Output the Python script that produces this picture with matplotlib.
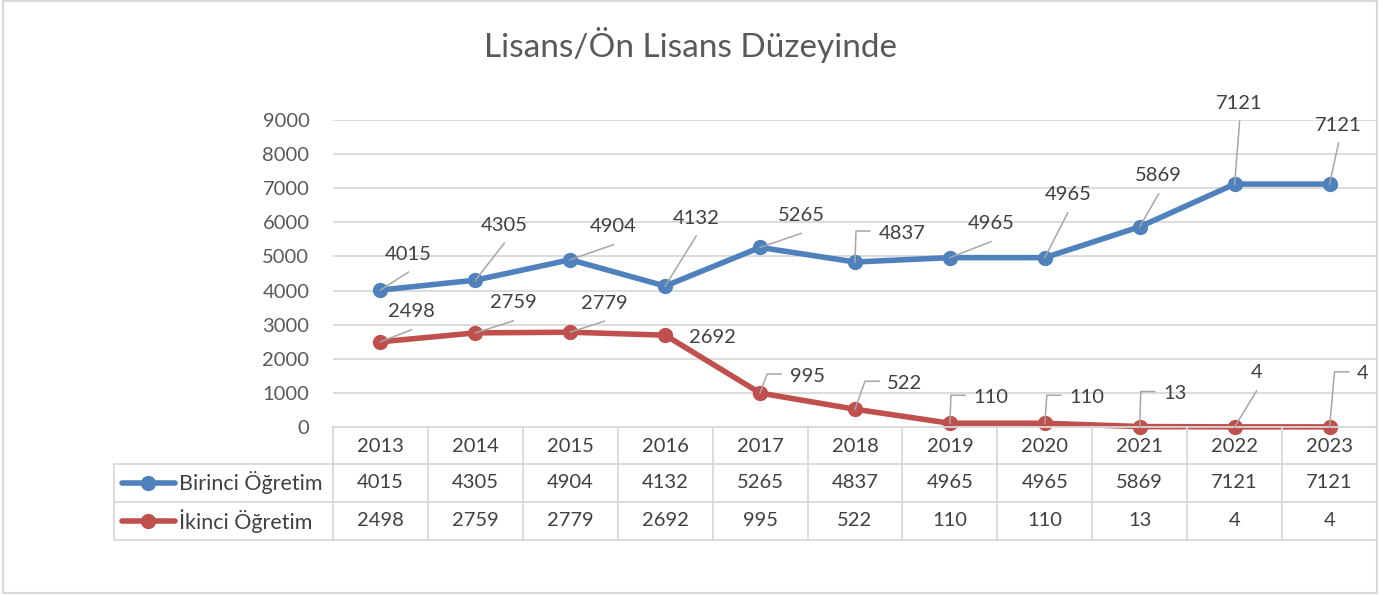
import matplotlib.pyplot as plt
from matplotlib.transforms import blended_transform_factory

# ============================================================
# DATA
# ============================================================
YEARS = [2013, 2014, 2015, 2016, 2017, 2018, 2019, 2020, 2021, 2022, 2023]
BIRINCI = [4015, 4305, 4904, 4132, 5265, 4837, 4965, 4965, 5869, 7121, 7121]
IKINCI = [2498, 2759, 2779, 2692, 995, 522, 110, 110, 13, 4, 4]
SERIES_NAMES = ["Birinci Öğretim", "İkinci Öğretim"]
TITLE = "Lisans/Ön Lisans Düzeyinde"
Y_TICKS = [0, 1000, 2000, 3000, 4000, 5000, 6000, 7000, 8000, 9000]

# ============================================================
# STYLE
# ============================================================
W, H = 1395, 595
BLUE = "#4F81BD"
RED = "#C0504D"
GRID = "#D9D9D9"
LEADER = "#A6A6A6"
TXT = "#404040"
TICK_TXT = "#595959"
FONT = "Lato"
FS = 14.5

# label placement (pixel offset from point: dx, dy downward) and leader style
# 's' = straight leader, 'b' = bracket leader, None = no leader
BLUE_LABELS = [(28, -36, 's'), (29, -55, 's'), (43, -33, 's'), (31, -68, 's'),
               (41, -32, 's'), (47, -29, 'b'), (41, -34, 's'), (23, -63, 's'),
               (19, -51, 's'), (5, -81, 's'), (9, -59, 's')]
RED_LABELS = [(31, -30, 's'), (38, -30, 's'), (34, -29, 's'), (47, 2, None),
              (47, -17, 'b'), (50, -26, 'b'), (41, -26, 'b'), (42, -26, 'b'),
              (35, -33, 'b'), (22, -54, 's'), (33, -53, 'b')]

plt.rcParams['font.family'] = [FONT, 'DejaVu Sans']

fig = plt.figure(figsize=(W / 100, H / 100), dpi=100)

# main plot area (pixel box: x 333..1377, y 120..427)
ax = fig.add_axes([333 / W, (H - 427) / H, (1377 - 333) / W, (427 - 120) / H])
ax.set_xlim(-0.5, len(YEARS) - 0.5)
ax.set_ylim(0, 9000)
ax.set_yticks(Y_TICKS)
ax.set_yticklabels([str(t) for t in Y_TICKS], fontsize=FS, color=TICK_TXT)
ax.set_xticks([])
ax.tick_params(axis='y', length=0, pad=17)
for s in ax.spines.values():
    s.set_visible(False)
ax.grid(axis='y', color=GRID, linewidth=1.3)
ax.set_axisbelow(True)

x = list(range(len(YEARS)))
ax.plot(x, BIRINCI, color=BLUE, linewidth=4, marker='o', markersize=10,
        solid_capstyle='round', zorder=3, clip_on=False)
ax.plot(x, IKINCI, color=RED, linewidth=4, marker='o', markersize=10,
        solid_capstyle='round', zorder=3, clip_on=False)

# overlay in pixel coordinates (y downwards)
ov = fig.add_axes([0, 0, 1, 1], facecolor='none')
ov.set_xlim(0, W)
ov.set_ylim(H, 0)
ov.axis('off')


def to_px(i, v):
    d = ax.transData.transform((i, v))
    return ov.transData.inverted().transform(d)


def add_labels(values, specs):
    for i, (v, (dx, dy, kind)) in enumerate(zip(values, specs)):
        px, py = to_px(i, v)
        cx, cy = px + dx, py + dy
        label = str(v)
        ov.text(cx, cy, label, fontsize=FS, color=TXT, ha='center', va='center', zorder=6)
        if kind == 's':
            ov.plot([px, cx], [py, cy + 18], color=LEADER, linewidth=1.1, zorder=5)
        elif kind == 'b':
            end = cx - (6 * len(label) + 8)
            corner = end - 14
            ov.plot([px, max(px, corner), end], [py, cy - 2, cy - 2],
                    color=LEADER, linewidth=1.1, zorder=5)


add_labels(BIRINCI, BLUE_LABELS)
add_labels(IKINCI, RED_LABELS)

# title
ov.text(690, 45, TITLE, fontsize=24, color=TICK_TXT, ha='center', va='center')

# data table
bt = blended_transform_factory(ax.transData, ov.transData)
ROW_Y = [427, 464, 502, 540]
n = len(YEARS)
for j in range(n + 1):
    ov.plot([j - 0.5, j - 0.5], [ROW_Y[0], ROW_Y[-1]], color=GRID, linewidth=1.3,
            transform=bt, zorder=2)
ov.plot([-0.5, n - 0.5], [ROW_Y[0], ROW_Y[0]], color=GRID, linewidth=1.3, transform=bt)
for yy in ROW_Y[1:]:
    ov.plot([114, 1377], [yy, yy], color=GRID, linewidth=1.3)
ov.plot([114, 114], [ROW_Y[1], ROW_Y[-1]], color=GRID, linewidth=1.3)

for j, yr in enumerate(YEARS):
    ov.text(j, 446, str(yr), fontsize=FS, color=TXT, ha='center', va='center', transform=bt)
    ov.text(j, 483, str(BIRINCI[j]), fontsize=FS, color=TXT, ha='center', va='center', transform=bt)
    ov.text(j, 521, str(IKINCI[j]), fontsize=FS, color=TXT, ha='center', va='center', transform=bt)

for name, col, yy in [(SERIES_NAMES[0], BLUE, 483), (SERIES_NAMES[1], RED, 521)]:
    ov.plot([122, 175], [yy, yy], color=col, linewidth=4, solid_capstyle='round')
    ov.plot([148], [yy], marker='o', color=col, markersize=10)
    ov.text(179, yy, name, fontsize=15.5, color=TXT, ha='left', va='center')

# outer chart border
ov.plot([3, 1377, 1377, 3, 3], [1, 1, 593, 593, 1], color=GRID, linewidth=1.5)

fig.savefig("out.png", dpi=100, facecolor='white')
